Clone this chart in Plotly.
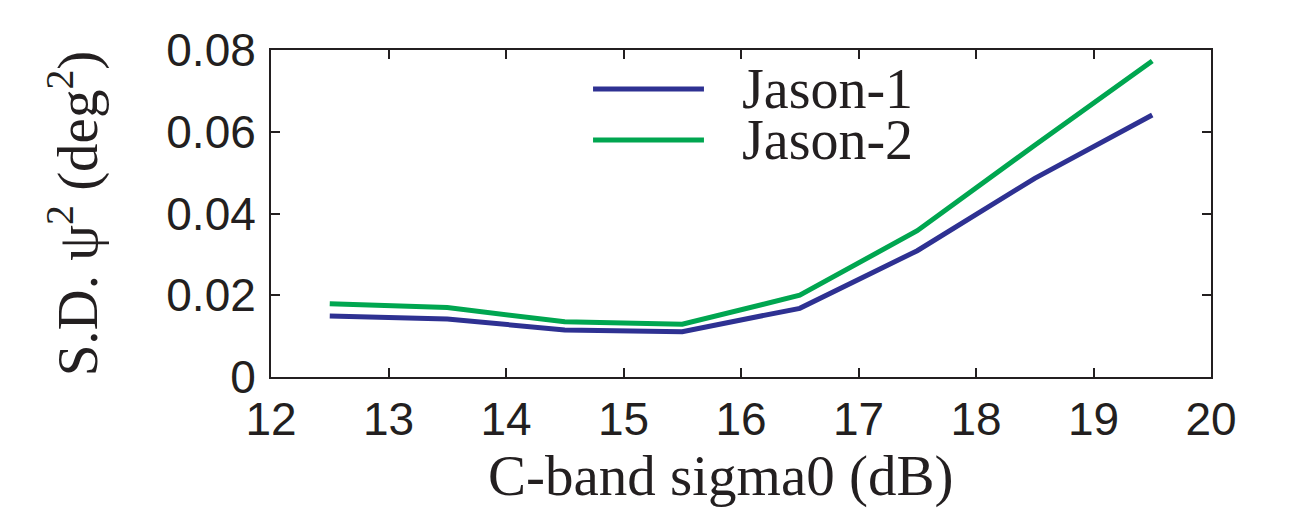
import plotly.graph_objects as go

sigma0 = [12.5, 13.5, 14.5, 15.5, 16.5, 17.5, 18.5, 19.5]
jason1 = [0.0149, 0.0142, 0.0115, 0.0111, 0.0168, 0.0309, 0.0486, 0.0641]
jason2 = [0.0179, 0.0170, 0.0135, 0.0129, 0.0200, 0.0358, 0.0567, 0.0773]
series_names = ["Jason-1", "Jason-2"]
series_colors = ["#2E3192", "#00A650"]
x_ticks = [12, 13, 14, 15, 16, 17, 18, 19, 20]
y_ticks = [0, 0.02, 0.04, 0.06, 0.08]
y_tick_labels = ["0", "0.02", "0.04", "0.06", "0.08"]
x_title = "C-band sigma0 (dB)"
y_title = "S.D. ψ<sup>2</sup> (deg<sup>2</sup>)"

serif = "Liberation Serif, Times New Roman, serif"
sans = "Liberation Sans, Arial, Helvetica, sans-serif"
ink = "#231F20"

fig = go.Figure()
for name, vals, col in zip(series_names, [jason1, jason2], series_colors):
    fig.add_trace(go.Scatter(x=sigma0, y=vals, mode="lines", name=name,
                             line=dict(color=col, width=5), showlegend=False))

# manual legend (long line samples as in the reference)
leg_y = [0.881, 0.725]
for name, col, yy in zip(series_names, series_colors, leg_y):
    fig.add_shape(type="line", xref="paper", yref="paper",
                  x0=0.3426, x1=0.4606, y0=yy, y1=yy,
                  line=dict(color=col, width=5))
    fig.add_annotation(xref="paper", yref="paper", x=0.499, y=yy,
                       text=name, showarrow=False, xanchor="left", yanchor="middle",
                       font=dict(family=serif, size=56, color=ink))

# x-axis title (slightly left of centre, as in the reference)
fig.add_annotation(xref="paper", yref="paper", x=0.4787, y=-0.303,
                   text=x_title, showarrow=False, xanchor="center", yanchor="middle",
                   font=dict(family=serif, size=57, color=ink))

axis_common = dict(showline=True, linecolor=ink, linewidth=2, mirror="ticks",
                   ticks="inside", ticklen=9, tickwidth=1.5, tickcolor=ink,
                   showgrid=False, zeroline=False,
                   tickfont=dict(family=sans, size=46, color=ink))

fig.update_xaxes(range=[12, 20], tickvals=x_ticks, ticktext=[str(v) for v in x_ticks],
                 ticklabelstandoff=1, **axis_common)
fig.update_yaxes(range=[0, 0.08], tickvals=y_ticks, ticktext=y_tick_labels,
                 title=dict(text=y_title, font=dict(family=serif, size=57, color=ink), standoff=50),
                 ticklabelstandoff=4, **axis_common)

fig.update_layout(width=1297, height=510, margin=dict(l=263, r=94, t=42, b=141, autoexpand=False),
                  plot_bgcolor="white", paper_bgcolor="white")

fig.write_html("out.html")
